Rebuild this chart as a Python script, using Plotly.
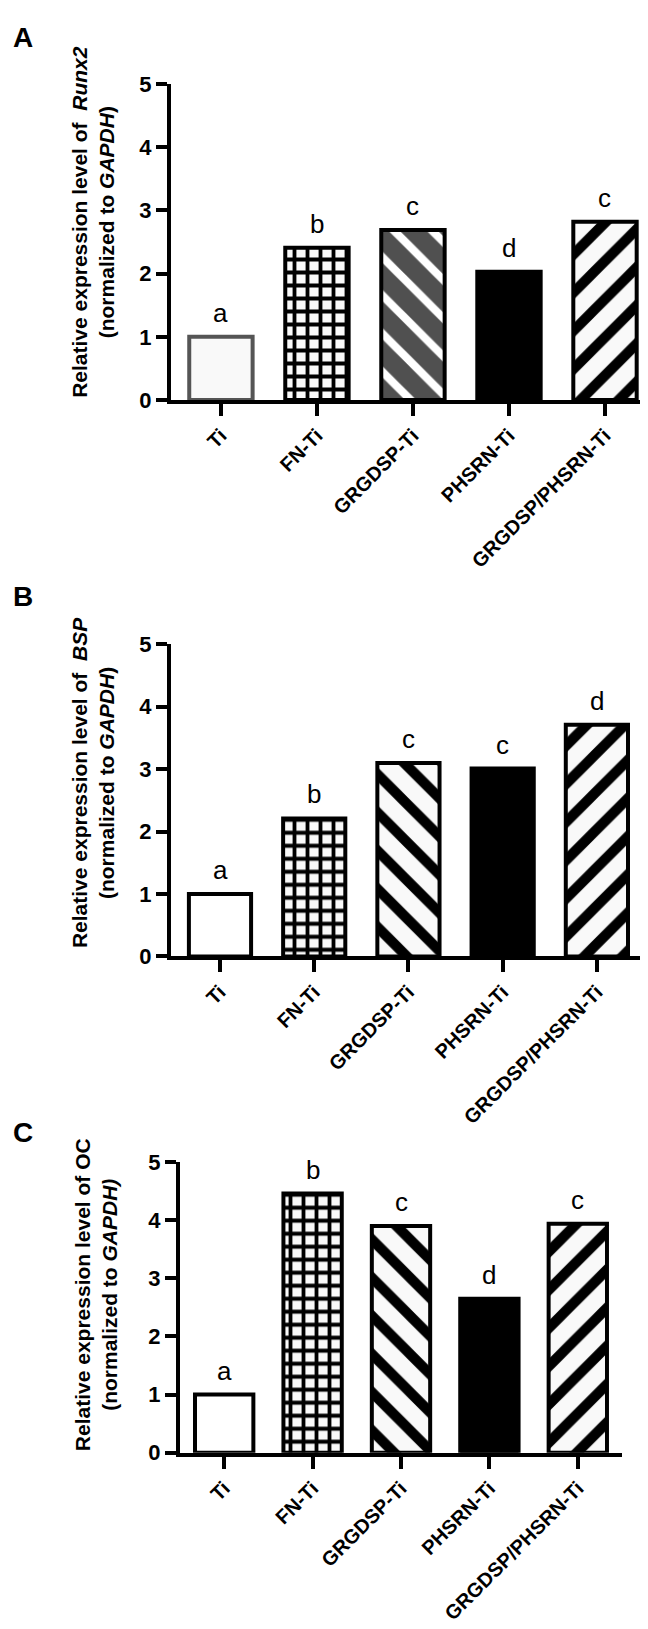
import plotly.graph_objects as go

# ---------------- data ----------------
categories = ["Ti", "FN-Ti", "GRGDSP-Ti", "PHSRN-Ti", "GRGDSP/PHSRN-Ti"]
runx2_values = [1.0, 2.41, 2.69, 2.03, 2.82]
bsp_values = [1.0, 2.21, 3.10, 3.01, 3.71]
oc_values = [1.0, 4.46, 3.90, 2.65, 3.94]
runx2_letters = ["a", "b", "c", "d", "c"]
bsp_letters = ["a", "b", "c", "c", "d"]
oc_letters = ["a", "b", "c", "d", "c"]
y_tick_values = [0, 1, 2, 3, 4, 5]

FONT = "Arial, Liberation Sans, sans-serif"
W, H = 648, 1629

# ---------------- styles (one per bar) ----------------
style_a = dict(
    color=["#f9f9f9", "#f9f9f9", "#505050", "#000000", "#f9f9f9"],
    shape=["", "+", "\\", "", "/"],
    fg=["#000000", "#000000", "#ffffff", "#000000", "#000000"],
    solidity=[0.3, 0.5, 0.3, 0.3, 0.38],
    size=[26, 13, 27, 26, 27],
    line=["#555555", "#000000", "#000000", "#000000", "#000000"],
)
style_bc = dict(
    color=["#ffffff", "#f9f9f9", "#f9f9f9", "#000000", "#f9f9f9"],
    shape=["", "+", "\\", "", "/"],
    fg=["#000000", "#000000", "#000000", "#000000", "#000000"],
    solidity=[0.3, 0.5, 0.38, 0.3, 0.38],
    size=[26, 13, 27, 26, 27],
    line=["#000000", "#000000", "#000000", "#000000", "#000000"],
)

# pixel layout of each panel: (x_left, x_right, y_top, y_bottom)
panels = [
    dict(vals=runx2_values, letters=runx2_letters, style=style_a,
         px=(163, 645, 65, 386), xr=[-0.52, 4.5],
         title="Relative expression level of  <i>Runx2</i><br>(normalized to <i>GAPDH</i>)",
         title_xy=(85, 205), tag="A", tag_xy=(15, 18)),
    dict(vals=bsp_values, letters=bsp_letters, style=style_bc,
         px=(163, 636, 634, 951), xr=[-0.52, 4.5],
         title="Relative expression level of  <i>BSP</i><br>(normalized to <i>GAPDH</i>)",
         title_xy=(85, 775), tag="B", tag_xy=(15, 585)),
    dict(vals=oc_values, letters=oc_letters, style=style_bc,
         px=(172, 614, 1160, 1455), xr=[-0.5, 4.5],
         title="Relative expression level of OC<br>(normalized to <i>GAPDH)</i>",
         title_xy=(88, 1295), tag="C", tag_xy=(15, 1130)),
]

fig = go.Figure()
annotations = []

for i, p in enumerate(panels, start=1):
    s = p["style"]
    xa = "x" if i == 1 else f"x{i}"
    ya = "y" if i == 1 else f"y{i}"
    for j, (c, v) in enumerate(zip(categories, p["vals"])):
        marker = dict(color=s["color"][j], line=dict(color=s["line"][j], width=4))
        if s["shape"][j]:
            marker["pattern"] = dict(shape=s["shape"][j], fgcolor=s["fg"][j],
                                     bgcolor=s["color"][j], fgopacity=1,
                                     solidity=s["solidity"][j], size=s["size"][j],
                                     fillmode="replace")
        fig.add_trace(go.Bar(x=[c], y=[v], xaxis=xa, yaxis=ya, width=0.66,
                             marker=marker, showlegend=False))
    x0, x1, y0, y1 = p["px"]
    axis_common = dict(showline=True, linecolor="black", linewidth=4,
                       ticks="outside", tickcolor="black", tickwidth=4,
                       showgrid=False, zeroline=False)
    fig.update_layout(**{
        ("xaxis" if i == 1 else f"xaxis{i}"): dict(
            domain=[x0 / W, x1 / W], anchor=ya, range=p["xr"],
            categoryorder="array", categoryarray=categories,
            ticklen=12, tickangle=-45,
            tickfont=dict(family=FONT, size=20, color="black", weight="bold"),
            **axis_common),
        ("yaxis" if i == 1 else f"yaxis{i}"): dict(
            domain=[1 - y1 / H, 1 - y0 / H], anchor=xa, range=[0, 5],
            tickvals=y_tick_values, ticklen=11,
            tickfont=dict(family=FONT, size=22, color="black", weight="bold"),
            **axis_common),
    })
    for c, v, L in zip(categories, p["vals"], p["letters"]):
        annotations.append(dict(x=c, y=v, xref=xa, yref=ya, text=L, showarrow=False,
                                yanchor="bottom", yshift=7,
                                font=dict(family=FONT, size=26, color="black")))
    tx, ty = p["title_xy"]
    annotations.append(dict(x=tx / W, y=1 - ty / H, xref="paper", yref="paper",
                            text=p["title"], showarrow=False, textangle=-90,
                            xanchor="center", yanchor="middle",
                            font=dict(family=FONT, size=21, color="black", weight="bold")))
    gx, gy = p["tag_xy"]
    annotations.append(dict(x=gx / W, y=1 - gy / H, xref="paper", yref="paper",
                            text=p["tag"], showarrow=False, xanchor="center", yanchor="middle",
                            font=dict(family=FONT, size=28, color="black", weight="bold")))

fig.update_layout(width=W, height=H, margin=dict(l=0, r=0, t=0, b=0),
                  paper_bgcolor="white", plot_bgcolor="white", barmode="overlay",
                  annotations=annotations)

fig.write_html("out.html")
